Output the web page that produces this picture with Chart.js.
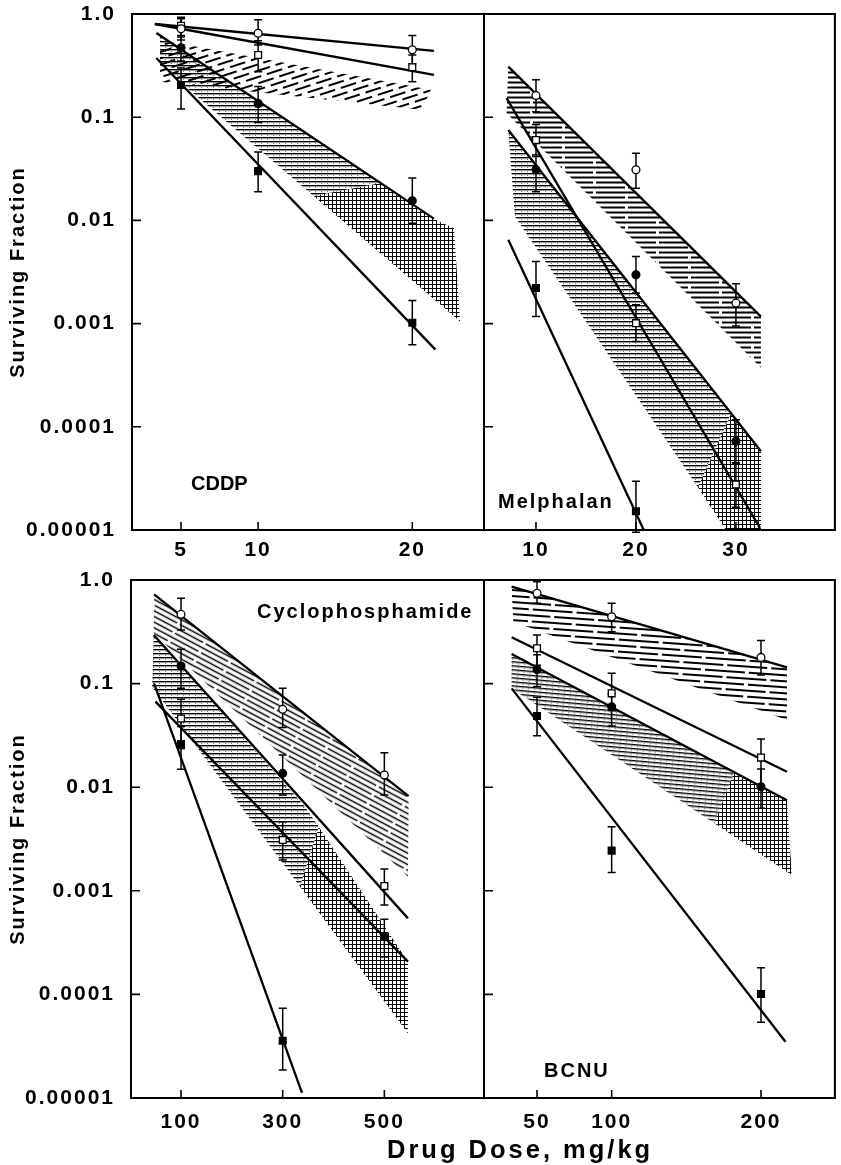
<!DOCTYPE html>
<html>
<head>
<meta charset="utf-8">
<script src="https://cdn.jsdelivr.net/npm/chart.js@4.4.1/dist/chart.umd.min.js"></script>
<style>
  html, body { margin: 0; padding: 0; background: #fff; }
  #page { position: relative; width: 841px; height: 1165px; overflow: hidden; background: #fff; }
  #page canvas { position: absolute; }
  .lbl { position: absolute; font-family: "Liberation Sans", Arial, sans-serif; font-weight: bold;
         line-height: 1; white-space: nowrap; color: #000; }
</style>
</head>
<body>
<div id="page">
  <canvas id="cddp" width="500" height="570" style="left:0px;top:0px"></canvas>
  <canvas id="mel" width="371" height="570" style="left:470px;top:0px"></canvas>
  <canvas id="cy" width="500" height="580" style="left:0px;top:560px"></canvas>
  <canvas id="bc" width="371" height="580" style="left:470px;top:560px"></canvas>
  <div class="lbl" style="left:191px;top:473px;font-size:20px;letter-spacing:0px">CDDP</div>
  <div class="lbl" style="left:498px;top:491px;font-size:20px;letter-spacing:2px">Melphalan</div>
  <div class="lbl" style="left:257px;top:601px;font-size:20px;letter-spacing:2px">Cyclophosphamide</div>
  <div class="lbl" style="left:544px;top:1060px;font-size:20px;letter-spacing:2px">BCNU</div>
  <div class="lbl" style="left:387px;top:1137px;font-size:25.5px;letter-spacing:3px">Drug Dose, mg/kg</div>
</div>
<script>
// ---------- shared axis ----------
const yTickValues = [1, 0.1, 0.01, 0.001, 0.0001, 0.00001];
const yTickLabels = ['1.0', '0.1', '0.01', '0.001', '0.0001', '0.00001'];
const yTitle = 'Surviving Fraction';

// ---------- CDDP ----------
const cddpTicks = [5, 10, 20];
const cddpTickLabels = ['5', '10', '20'];
const cddpDose = [5, 10, 20];
const cddpOpenCircle = [0.72, 0.65, 0.45];
const cddpOpenCircleLo = [0.56, 0.50, 0.33];
const cddpOpenCircleHi = [0.93, 0.88, 0.62];
const cddpOpenSquare = [0.77, 0.40, 0.305];
const cddpOpenSquareLo = [0.62, 0.276, 0.22];
const cddpOpenSquareHi = [0.90, 0.55, 0.40];
const cddpFilledCircle = [0.47, 0.136, 0.0155];
const cddpFilledCircleLo = [0.35, 0.089, 0.0094];
const cddpFilledCircleHi = [0.60, 0.198, 0.0257];
const cddpFilledSquare = [0.205, 0.030, 0.00102];
const cddpFilledSquareLo = [0.12, 0.019, 0.000625];
const cddpFilledSquareHi = [0.30, 0.046, 0.00167];
const cddpFits = [
  [[3.3, 0.80], [21.4, 0.44]],
  [[3.3, 0.80], [21.4, 0.257]],
  [[3.4, 0.655], [21.4, 0.0104]],
  [[3.4, 0.375], [21.5, 0.00056]]
];
const cddpBandOpen = [[3.64, 0.56], [21.2, 0.184], [20.6, 0.118], [3.64, 0.22]];
const cddpBandFilled = [[3.64, 0.61], [17.9, 0.0229], [13.6, 0.01726], [3.64, 0.32]];
const cddpBandCross = [[17.9, 0.0229], [21.36, 0.0104], [22.7, 0.0084], [23.1, 0.00105], [13.6, 0.01726]];

// ---------- Melphalan ----------
const melTicks = [10, 20, 30];
const melTickLabels = ['10', '20', '30'];
const melDose = [10, 20, 30];
const melOpenCircle = [0.162, 0.031, 0.00158];
const melOpenCircleLo = [0.113, 0.0205, 0.00095];
const melOpenCircleHi = [0.23, 0.0448, 0.00243];
const melOpenSquare = [0.060, 0.00101, 0.0000276];
const melOpenSquareLo = [0.043, 0.00067, 0.0000166];
const melOpenSquareHi = [0.085, 0.00152, 0.0000447];
const melFilledCircle = [0.031, 0.00297, 0.0000724];
const melFilledCircleLo = [0.019, 0.00198, 0.0000449];
const melFilledCircleHi = [0.0415, 0.00447, 0.000117];
const melFilledSquareDose = [10, 20];
const melFilledSquare = [0.00221, 0.0000152];
const melFilledSquareLo = [0.00117, 0.0000095];
const melFilledSquareHi = [0.0040, 0.0000297];
const melFits = [
  [[7.23, 0.309], [32.5, 0.00117]],
  [[7.06, 0.153], [32.4, 0.0000105]],
  [[7.23, 0.0753], [32.5, 0.0000579]],
  [[7.23, 0.00649], [20.76, 0.0000101]]
];
const melBandOpen = [[7.23, 0.309], [32.5, 0.00117], [32.5, 0.000374], [7.06, 0.109]];
const melBandFilled = [[7.23, 0.0753], [29.5, 0.000133], [26.2, 0.000026], [7.89, 0.0109]];
const melBandCross = [[29.5, 0.000133], [32.5, 0.0000579], [32.5, 0.00001], [29.0, 0.00001], [26.2, 0.000026]];

// ---------- Cyclophosphamide ----------
const cyTicks = [100, 300, 500];
const cyTickLabels = ['100', '300', '500'];
const cyDose = [100, 300, 500];
const cyOpenCircle = [0.466, 0.0565, 0.0131];
const cyOpenCircleLo = [0.33, 0.0376, 0.0084];
const cyOpenCircleHi = [0.666, 0.090, 0.0215];
const cyOpenSquare = [0.046, 0.0031, 0.00111];
const cyOpenSquareLo = [0.028, 0.00198, 0.00073];
const cyOpenSquareHi = [0.0705, 0.00465, 0.00162];
const cyFilledCircle = [0.148, 0.0136, 0.00036];
const cyFilledCircleLo = [0.090, 0.0084, 0.00023];
const cyFilledCircleHi = [0.214, 0.0205, 0.00053];
const cyFilledSquareDose = [100, 300];
const cyFilledSquare = [0.0255, 0.0000357];
const cyFilledSquareLo = [0.0149, 0.0000186];
const cyFilledSquareHi = [0.0385, 0.0000734];
const cyFits = [
  [[47, 0.728], [547.7, 0.0082]],
  [[46.4, 0.294], [546.4, 0.000542]],
  [[49.7, 0.067], [546.4, 0.000207]],
  [[47, 0.1007], [338, 0.0000112]]
];
const cyBandOpen = [[47, 0.728], [547.7, 0.0082], [546.4, 0.00137], [46.4, 0.306]];
const cyBandFilled = [[46.4, 0.294], [343.8, 0.00648], [370.8, 0.00415], [334, 0.0011], [43.1, 0.0933]];
const cyBandCross = [[370.8, 0.00415], [546.4, 0.000207], [546.4, 0.000042], [334, 0.0011]];

// ---------- BCNU ----------
const bcTicks = [50, 100, 200];
const bcTickLabels = ['50', '100', '200'];
const bcDose = [50, 100, 200];
const bcOpenCircle = [0.744, 0.442, 0.179];
const bcOpenCircleLo = [0.596, 0.317, 0.121];
const bcOpenCircleHi = [0.96, 0.596, 0.26];
const bcOpenSquare = [0.219, 0.0805, 0.0193];
const bcOpenSquareLo = [0.15, 0.055, 0.0098];
const bcOpenSquareHi = [0.294, 0.126, 0.0292];
const bcFilledCircle = [0.137, 0.0598, 0.0101];
const bcFilledCircleLo = [0.093, 0.039, 0.00625];
const bcFilledCircleHi = [0.19, 0.08, 0.015];
const bcFilledSquare = [0.0487, 0.00244, 0.000101];
const bcFilledSquareLo = [0.0314, 0.0015, 0.0000537];
const bcFilledSquareHi = [0.0737, 0.00416, 0.000181];
const bcFits = [
  [[33, 0.862], [217.4, 0.1436]],
  [[33, 0.28], [217.4, 0.0141]],
  [[33, 0.193], [217.4, 0.0075]],
  [[33, 0.090], [216.4, 0.0000349]]
];
const bcBandOpen = [[33, 0.862], [217.4, 0.1436], [217.4, 0.0445], [34.1, 0.396]];
const bcBandFilled = [[33, 0.193], [182, 0.014], [168.7, 0.00448], [33, 0.090]];
const bcBandCross = [[182, 0.014], [217.4, 0.0075], [220.6, 0.00142], [168.7, 0.00448]];

// ---------- fill textures ----------
function hatch(spacing, dash, gap, angle, width) {
  const w = dash + gap, h = spacing * 2;
  const c = document.createElement('canvas');
  c.width = w; c.height = h;
  const g = c.getContext('2d');
  g.strokeStyle = '#000';
  g.lineWidth = width;
  g.beginPath();
  g.moveTo(0, spacing / 2); g.lineTo(dash, spacing / 2);
  const off = Math.round(w / 2);
  g.moveTo(off, spacing * 1.5); g.lineTo(Math.min(w, off + dash), spacing * 1.5);
  if (off + dash > w) { g.moveTo(0, spacing * 1.5); g.lineTo(off + dash - w, spacing * 1.5); }
  g.stroke();
  const p = g.createPattern(c, 'repeat');
  p.setTransform(new DOMMatrix().rotateSelf(angle));
  return p;
}
function stipple(angle) {
  const c = document.createElement('canvas');
  c.width = 6; c.height = 4;
  const g = c.getContext('2d');
  g.fillStyle = '#000';
  g.fillRect(0, 1, 6, 1.4);
  g.fillStyle = 'rgba(0,0,0,0.5)';
  g.fillRect(3, 3, 1, 1);
  const p = g.createPattern(c, 'repeat');
  p.setTransform(new DOMMatrix().rotateSelf(angle));
  return p;
}
function crossHatch() {
  const c = document.createElement('canvas');
  c.width = 4; c.height = 4;
  const g = c.getContext('2d');
  g.fillStyle = '#000';
  g.fillRect(0, 0, 4, 1);
  g.fillRect(0, 0, 1, 4);
  return g.createPattern(c, 'repeat');
}

// ---------- plugins ----------
const textSpacing = {
  id: 'textSpacing',
  beforeDraw(chart, args, opts) { chart.ctx.letterSpacing = opts.value || '0px'; }
};
const errorBars = {
  id: 'errorBars',
  beforeDatasetsDraw(chart) { chart.$errDone = false; },
  beforeDatasetDraw(chart, args) {
    const ds = chart.data.datasets[args.index];
    if (!ds.errLo || chart.$errDone) return;
    chart.$errDone = true;
    const {ctx, scales: {x, y}} = chart;
    ctx.save();
    ctx.strokeStyle = '#000';
    ctx.lineWidth = 1.5;
    chart.data.datasets.forEach(set => {
      if (!set.errLo) return;
      set.data.forEach((p, i) => {
        const px = x.getPixelForValue(p.x);
        const y1 = y.getPixelForValue(set.errLo[i]);
        const y2 = y.getPixelForValue(set.errHi[i]);
        ctx.beginPath();
        ctx.moveTo(px, y1); ctx.lineTo(px, y2);
        ctx.moveTo(px - 4, y1); ctx.lineTo(px + 4, y1);
        ctx.moveTo(px - 4, y2); ctx.lineTo(px + 4, y2);
        ctx.stroke();
      });
    });
    ctx.restore();
  }
};
const frame = {
  id: 'frame',
  afterDatasetsDraw(chart) {
    const {ctx, chartArea: a, scales: {x, y}} = chart;
    ctx.save();
    ctx.strokeStyle = '#000';
    ctx.lineWidth = 2;
    ctx.strokeRect(a.left, a.top, a.right - a.left, a.bottom - a.top);
    ctx.lineWidth = 1.6;
    ctx.beginPath();
    x.ticks.forEach(t => {
      const px = x.getPixelForValue(t.value);
      ctx.moveTo(px, a.bottom); ctx.lineTo(px, a.bottom - 8);
    });
    y.ticks.forEach(t => {
      const py = y.getPixelForValue(t.value);
      if (py > a.top + 2 && py < a.bottom - 2) { ctx.moveTo(a.left, py); ctx.lineTo(a.left + 9, py); }
    });
    ctx.stroke();
    ctx.restore();
  }
};

// ---------- dataset builders ----------
const xy = pts => pts.map(([x, y]) => ({x, y}));
function markers(dose, val, lo, hi, style, filled) {
  return {
    data: dose.map((d, i) => ({x: d, y: val[i]})),
    errLo: lo, errHi: hi,
    showLine: false,
    pointStyle: style,
    pointRadius: style === 'rect' ? 4.8 : 3.9,
    pointBackgroundColor: filled ? '#000' : '#fff',
    pointBorderColor: '#000',
    pointBorderWidth: 1.3,
    order: 1
  };
}
function fitLine(pts) {
  return { data: xy(pts), borderColor: '#000', borderWidth: 2.3, pointRadius: 0, fill: false, tension: 0, order: 5 };
}
function band(pts, pattern) {
  return { data: xy(pts), borderColor: 'rgba(0,0,0,0)', borderWidth: 0, backgroundColor: pattern,
           fill: 'shape', pointRadius: 0, tension: 0, order: 10 };
}

const tickFont = {family: "'Liberation Sans', Arial, sans-serif", weight: 'bold', size: 21};

function drawPanel(id, p) {
  const canvas = document.getElementById(id);
  const box = canvas.getBoundingClientRect();
  const pageBox = document.getElementById('page').getBoundingClientRect();
  const bx = box.left - pageBox.left, by = box.top - pageBox.top;
  new Chart(canvas, {
    type: 'line',
    data: {datasets: p.datasets},
    options: {
      responsive: false,
      animation: false,
      events: [],
      layout: {padding: {left: 0, bottom: 0, top: p.plot.top - by, right: bx + canvas.width - p.plot.right}},
      plugins: {legend: {display: false}, tooltip: {enabled: false}, textSpacing: {value: '2px'}},
      scales: {
        x: {
          type: 'linear', min: p.xMin, max: p.xMax,
          grid: {display: false}, border: {display: false},
          afterBuildTicks: s => { s.ticks = p.xTicks.map(v => ({value: v})); },
          ticks: {color: '#000', font: tickFont, padding: p.xPad, maxRotation: 0, autoSkip: false,
                  callback: v => p.xTickLabels[p.xTicks.indexOf(v)]},
          afterFit: s => {
            s.height = by + canvas.height - p.plot.bottom;
            s.paddingLeft = 0; s.paddingRight = 0;
          }
        },
        y: {
          type: 'logarithmic', min: 0.00001, max: 1,
          grid: {display: false}, border: {display: false},
          afterBuildTicks: s => { s.ticks = yTickValues.map(v => ({value: v})); },
          ticks: {display: p.yLabels, color: '#000', font: tickFont, padding: 8, autoSkip: false,
                  callback: v => yTickLabels[yTickValues.indexOf(v)]},
          title: {display: p.yLabels, text: yTitle, color: '#000',
                  font: {family: "'Liberation Sans', Arial, sans-serif", weight: 'bold', size: 20},
                  padding: {top: 6, bottom: 0}},
          afterFit: s => {
            s.width = p.plot.left - bx;
            s.paddingTop = 0; s.paddingBottom = 0;
          }
        }
      }
    },
    plugins: [textSpacing, errorBars, frame]
  });
}

drawPanel('cddp', {
  plot: {left: 132, top: 14, right: 484, bottom: 530},
  xMin: 1.82, xMax: 24.65, xTicks: cddpTicks, xTickLabels: cddpTickLabels, xPad: 0, yLabels: true,
  datasets: [
    band(cddpBandFilled, stipple(0)),
    band(cddpBandCross, crossHatch()),
    band(cddpBandOpen, hatch(6, 16, 6, -18, 1.9)),
    ...cddpFits.map(fitLine),
    markers(cddpDose, cddpOpenCircle, cddpOpenCircleLo, cddpOpenCircleHi, 'circle', false),
    markers(cddpDose, cddpOpenSquare, cddpOpenSquareLo, cddpOpenSquareHi, 'rect', false),
    markers(cddpDose, cddpFilledCircle, cddpFilledCircleLo, cddpFilledCircleHi, 'circle', true),
    markers(cddpDose, cddpFilledSquare, cddpFilledSquareLo, cddpFilledSquareHi, 'rect', true)
  ]
});

drawPanel('mel', {
  plot: {left: 484, top: 14, right: 839.5, bottom: 530},
  xMin: 4.8, xMax: 39.9, xTicks: melTicks, xTickLabels: melTickLabels, xPad: 0, yLabels: false,
  datasets: [
    band(melBandFilled, stipple(0)),
    band(melBandCross, crossHatch()),
    band(melBandOpen, hatch(5, 60, 3, 0, 1.8)),
    ...melFits.map(fitLine),
    markers(melDose, melOpenCircle, melOpenCircleLo, melOpenCircleHi, 'circle', false),
    markers(melDose, melOpenSquare, melOpenSquareLo, melOpenSquareHi, 'rect', false),
    markers(melDose, melFilledCircle, melFilledCircleLo, melFilledCircleHi, 'circle', true),
    markers(melFilledSquareDose, melFilledSquare, melFilledSquareLo, melFilledSquareHi, 'rect', true)
  ]
});

drawPanel('cy', {
  plot: {left: 131, top: 580, right: 484, bottom: 1098},
  xMin: 1.6, xMax: 696, xTicks: cyTicks, xTickLabels: cyTickLabels, xPad: 4, yLabels: true,
  datasets: [
    band(cyBandFilled, stipple(0)),
    band(cyBandCross, crossHatch()),
    band(cyBandOpen, hatch(5, 60, 3, 28, 1.7)),
    ...cyFits.map(fitLine),
    markers(cyDose, cyOpenCircle, cyOpenCircleLo, cyOpenCircleHi, 'circle', false),
    markers(cyDose, cyOpenSquare, cyOpenSquareLo, cyOpenSquareHi, 'rect', false),
    markers(cyDose, cyFilledCircle, cyFilledCircleLo, cyFilledCircleHi, 'circle', true),
    markers(cyFilledSquareDose, cyFilledSquare, cyFilledSquareLo, cyFilledSquareHi, 'rect', true)
  ]
});

drawPanel('bc', {
  plot: {left: 484, top: 580, right: 839.5, bottom: 1098},
  xMin: 14.5, xMax: 249.5, xTicks: bcTicks, xTickLabels: bcTickLabels, xPad: 4, yLabels: false,
  datasets: [
    band(bcBandFilled, stipple(5)),
    band(bcBandCross, crossHatch()),
    band(bcBandOpen, hatch(6, 40, 4, 4, 1.9)),
    ...bcFits.map(fitLine),
    markers(bcDose, bcOpenCircle, bcOpenCircleLo, bcOpenCircleHi, 'circle', false),
    markers(bcDose, bcOpenSquare, bcOpenSquareLo, bcOpenSquareHi, 'rect', false),
    markers(bcDose, bcFilledCircle, bcFilledCircleLo, bcFilledCircleHi, 'circle', true),
    markers(bcDose, bcFilledSquare, bcFilledSquareLo, bcFilledSquareHi, 'rect', true)
  ]
});
</script>
</body>
</html>
